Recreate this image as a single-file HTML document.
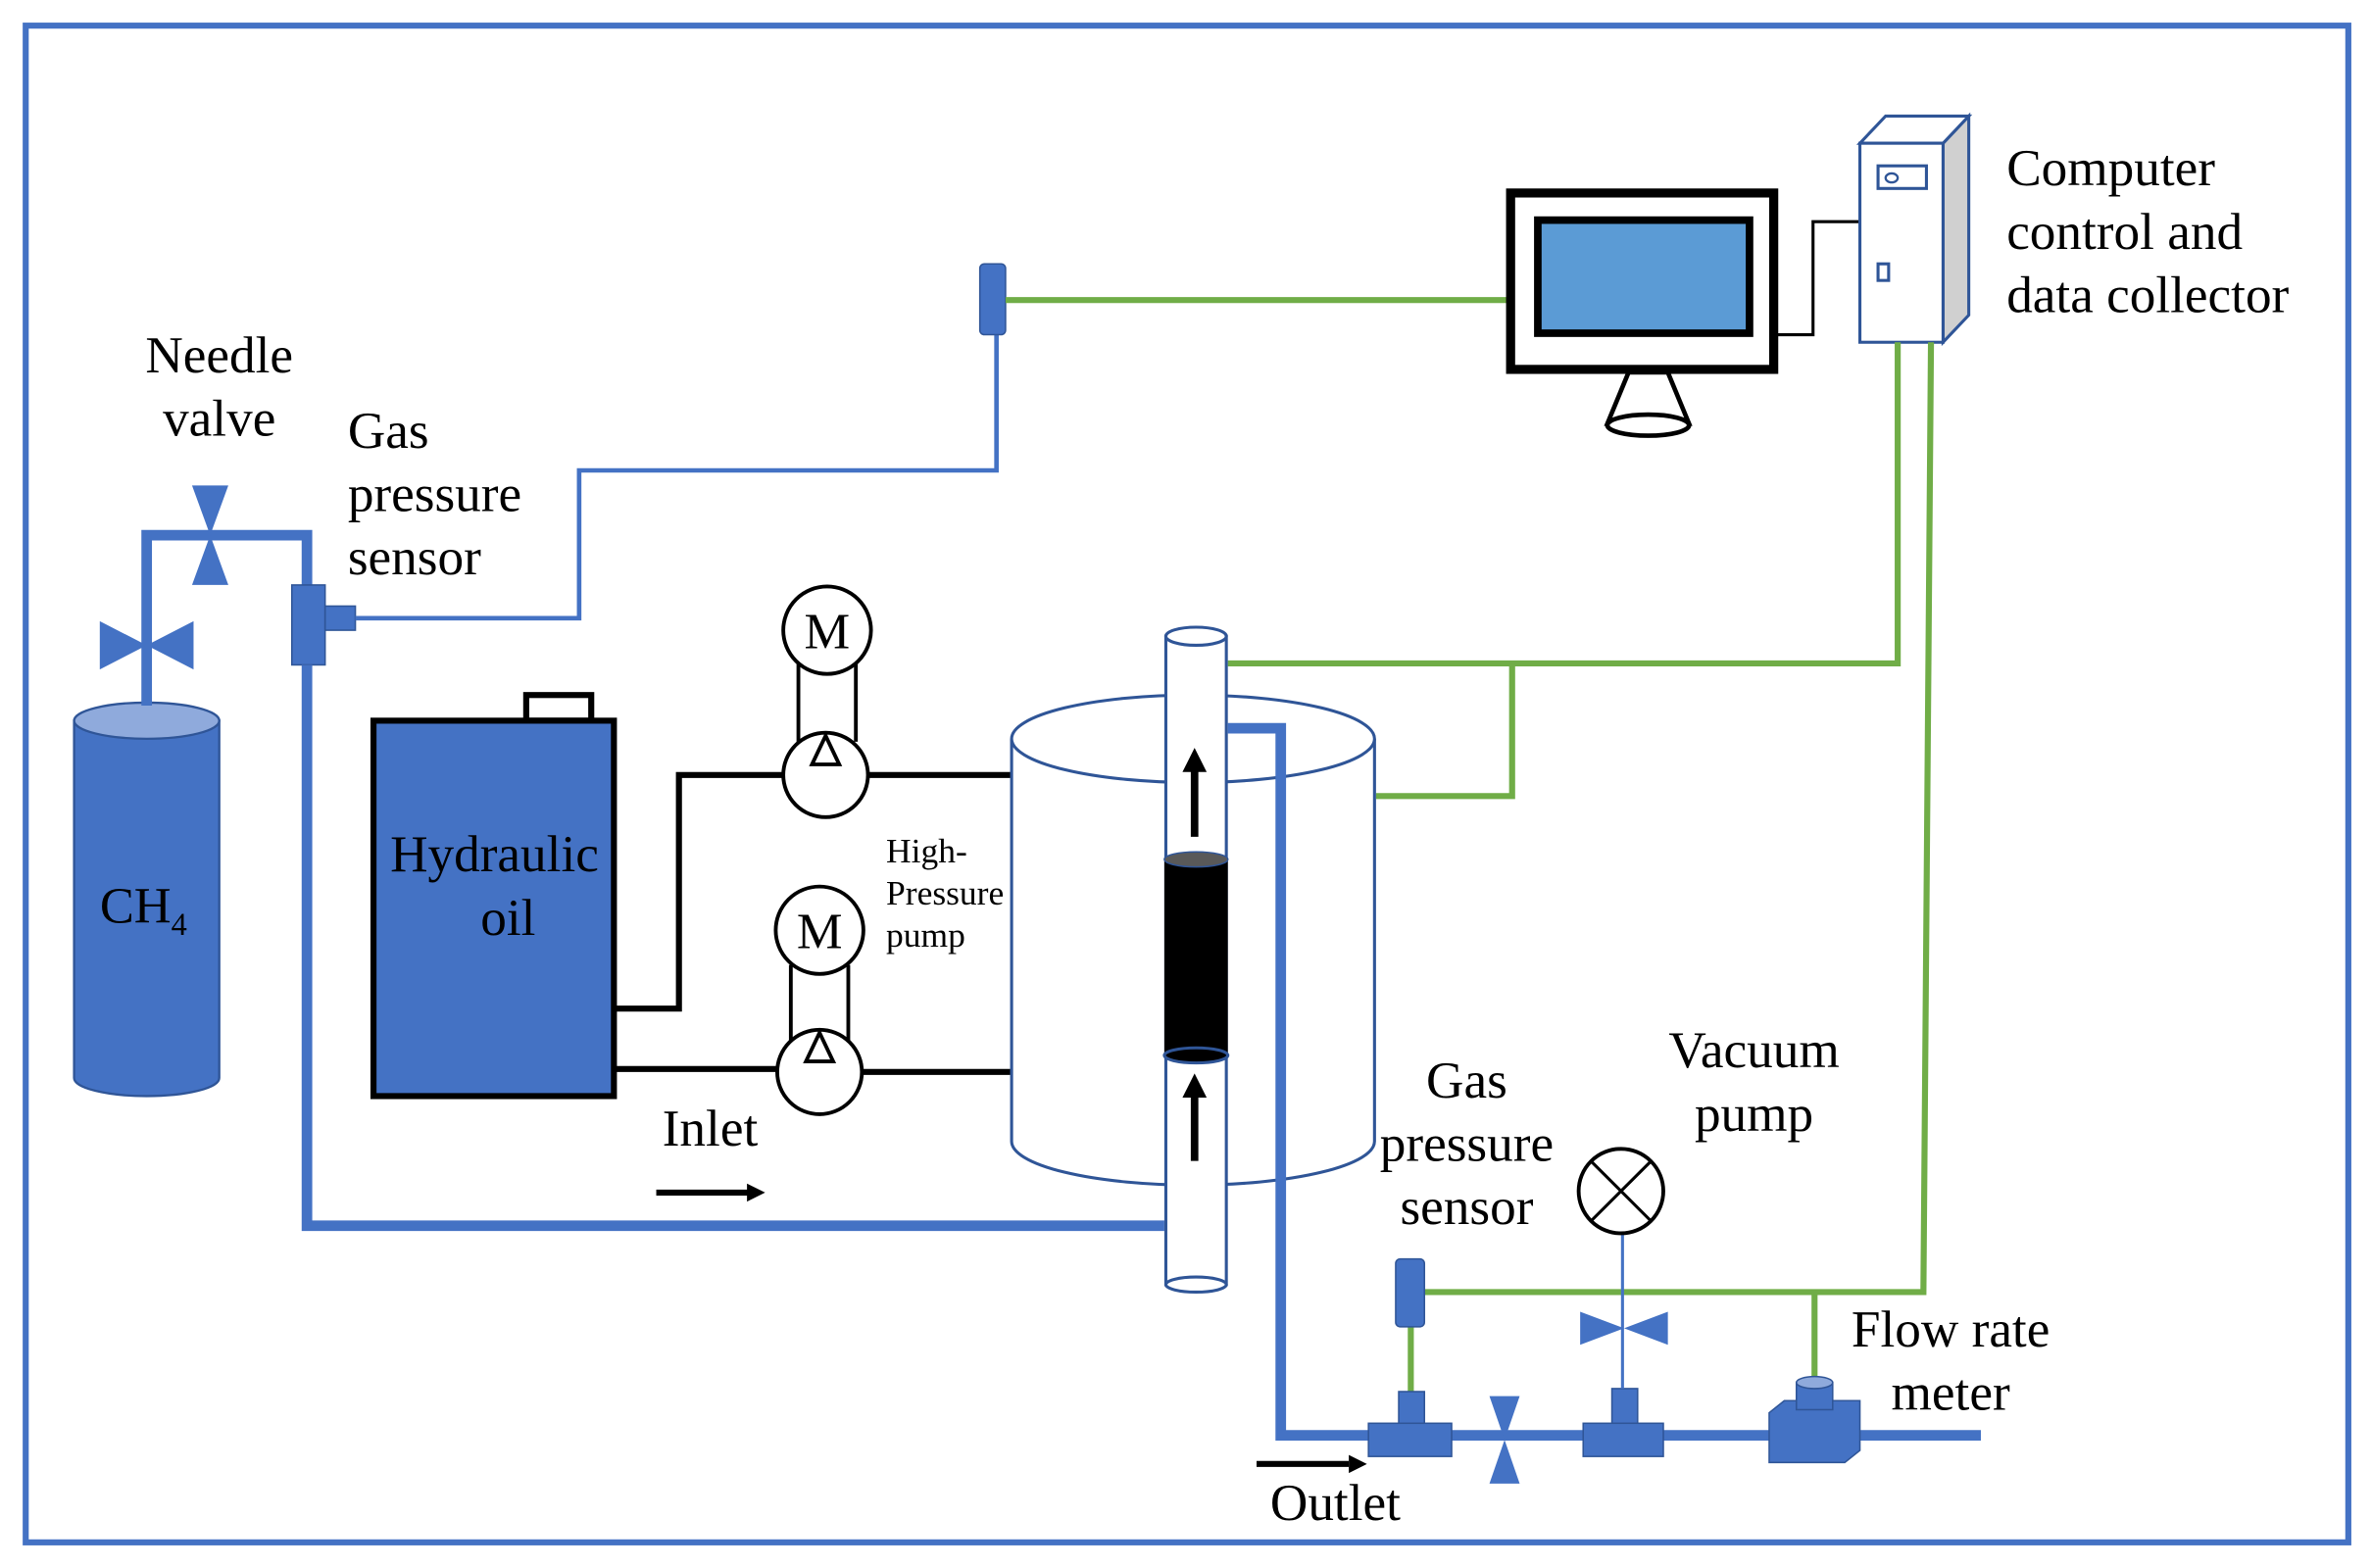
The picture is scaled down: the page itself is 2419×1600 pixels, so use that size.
<!DOCTYPE html>
<html><head><meta charset="utf-8"><style>
html,body{margin:0;padding:0;background:#fff;}
svg{display:block;}
text{font-family:"Liberation Serif",serif;fill:#000;}
</style></head><body>
<svg width="2419" height="1600" viewBox="0 0 1568 1040" preserveAspectRatio="none" xmlns="http://www.w3.org/2000/svg">
<rect x="0" y="0" width="1568" height="1040" fill="#fff"/>
<rect x="17" y="17" width="1536" height="1006" fill="none" stroke="#4472c4" stroke-width="4"/>

<!-- CH4 cylinder -->
<path d="M49,478 L49,715 A48,12 0 0 0 145,715 L145,478 Z" fill="#4472c4" stroke="#2f5597" stroke-width="1.5"/>
<ellipse cx="97" cy="478" rx="48" ry="12" fill="#8faadc" stroke="#2f5597" stroke-width="1.5"/>
<text x="66" y="612" font-size="34">CH<tspan font-size="21" dy="8">4</tspan></text>

<!-- gas line -->
<polyline points="97,468 97,355 203,355 203,388" fill="none" stroke="#4472c4" stroke-width="7"/>
<polygon points="66,412 66,444 128,412 128,444" fill="#4472c4"/>
<polygon points="127,322 151,322 127,388 151,388" fill="#4472c4"/>
<rect x="193" y="388" width="22" height="53" fill="#4472c4" stroke="#2f5597"/>
<rect x="215" y="402" width="20" height="16" fill="#4472c4" stroke="#2f5597"/>
<polyline points="235,410 383,410 383,312 659,312 659,222" fill="none" stroke="#4472c4" stroke-width="3"/>
<rect x="648" y="175" width="17" height="47" rx="3" fill="#4472c4" stroke="#2f5597"/>
<polyline points="203,441 203,813 770,813" fill="none" stroke="#4472c4" stroke-width="7"/>
<line x1="665" y1="199" x2="998" y2="199" stroke="#70ad47" stroke-width="4"/>

<!-- monitor -->
<rect x="999" y="128" width="174" height="117" fill="#fff" stroke="#000" stroke-width="6"/>
<rect x="1017" y="146" width="140" height="75" fill="#5b9bd5" stroke="#000" stroke-width="5"/>
<polygon points="1077,247 1103,247 1117,281 1063,281" fill="#fff" stroke="#000" stroke-width="3"/>
<ellipse cx="1090" cy="282" rx="27" ry="7" fill="#fff" stroke="#000" stroke-width="3"/>
<polyline points="1173,222 1199,222 1199,147 1230,147" fill="none" stroke="#000" stroke-width="2"/>

<!-- computer tower -->
<polygon points="1285,95 1302,77 1302,209 1285,227" fill="#d0d0d0" stroke="#2f5597" stroke-width="2"/>
<polygon points="1230,95 1247,77 1302,77 1285,95" fill="#fff" stroke="#2f5597" stroke-width="2"/>
<rect x="1230" y="95" width="55" height="132" fill="#fff" stroke="#2f5597" stroke-width="2"/>
<rect x="1242" y="110" width="32" height="15" fill="#fff" stroke="#2f5597" stroke-width="2"/>
<ellipse cx="1251" cy="118" rx="4" ry="3" fill="none" stroke="#2f5597" stroke-width="1.5"/>
<rect x="1242" y="175" width="7" height="11" fill="#fff" stroke="#2f5597" stroke-width="2"/>
<text x="1327" y="123" font-size="34.5">Computer</text>
<text x="1327" y="165" font-size="34.5">control and</text>
<text x="1327" y="207" font-size="34.5">data collector</text>

<!-- green wires -->
<polyline points="1255,227 1255,440 812,440" fill="none" stroke="#70ad47" stroke-width="4"/>
<polyline points="1000,440 1000,528 910,528" fill="none" stroke="#70ad47" stroke-width="4"/>
<polyline points="1277,227 1272,857 933,857" fill="none" stroke="#70ad47" stroke-width="4"/>
<line x1="1200" y1="857" x2="1200" y2="915" stroke="#70ad47" stroke-width="4"/>
<line x1="933" y1="880" x2="933" y2="925" stroke="#70ad47" stroke-width="4"/>

<!-- hydraulic oil -->
<rect x="348" y="461" width="43" height="17" fill="#fff" stroke="#000" stroke-width="4"/>
<rect x="247" y="478" width="159" height="249" fill="#4472c4" stroke="#000" stroke-width="4"/>
<text x="327" y="578" font-size="34.5" text-anchor="middle">Hydraulic</text>
<text x="336" y="620" font-size="34.5" text-anchor="middle">oil</text>

<!-- pump lines -->
<polyline points="406,669 449,669 449,514 518,514" fill="none" stroke="#000" stroke-width="4"/>
<line x1="574" y1="514" x2="669" y2="514" stroke="#000" stroke-width="4"/>
<line x1="406" y1="709" x2="514" y2="709" stroke="#000" stroke-width="4"/>
<line x1="570" y1="711" x2="669" y2="711" stroke="#000" stroke-width="4"/>
<line x1="528" y1="440" x2="528" y2="492" stroke="#000" stroke-width="2.5"/>
<line x1="566" y1="440" x2="566" y2="492" stroke="#000" stroke-width="2.5"/>
<circle cx="547" cy="418" r="29" fill="#fff" stroke="#000" stroke-width="2.5"/>
<text x="547" y="430" font-size="34" text-anchor="middle">M</text>
<circle cx="546" cy="514" r="28" fill="#fff" stroke="#000" stroke-width="2.5"/>
<polygon points="546,488 537,507 555,507" fill="#fff" stroke="#000" stroke-width="2.5"/>
<line x1="523" y1="640" x2="523" y2="690" stroke="#000" stroke-width="2.5"/>
<line x1="561" y1="640" x2="561" y2="690" stroke="#000" stroke-width="2.5"/>
<circle cx="542" cy="617" r="29" fill="#fff" stroke="#000" stroke-width="2.5"/>
<text x="542" y="629" font-size="34" text-anchor="middle">M</text>
<circle cx="542" cy="711" r="28" fill="#fff" stroke="#000" stroke-width="2.5"/>
<polygon points="542,685 533,704 551,704" fill="#fff" stroke="#000" stroke-width="2.5"/>
<text x="586" y="572" font-size="23">High-</text>
<text x="586" y="600" font-size="23">Pressure</text>
<text x="586" y="628" font-size="23">pump</text>

<!-- vessel -->
<path d="M669,490 L669,757 A120,29 0 0 0 909,757 L909,490" fill="#fff" stroke="#2f5597" stroke-width="2"/>
<ellipse cx="789" cy="490" rx="120" ry="29" fill="#fff" stroke="#2f5597" stroke-width="2"/>
<rect x="771" y="422" width="40" height="430" fill="#fff" stroke="#2f5597" stroke-width="2"/>
<ellipse cx="791" cy="422" rx="20" ry="6" fill="#fff" stroke="#2f5597" stroke-width="2"/>
<ellipse cx="791" cy="852" rx="20" ry="5" fill="#fff" stroke="#2f5597" stroke-width="2"/>
<rect x="770" y="570" width="42" height="130" fill="#000"/>
<ellipse cx="791" cy="570" rx="21" ry="5" fill="#595959" stroke="#2f5597"/>
<ellipse cx="791" cy="700" rx="21" ry="5" fill="#000" stroke="#2f5597" stroke-width="2"/>
<line x1="790" y1="555" x2="790" y2="510" stroke="#000" stroke-width="5"/>
<polygon points="790,496 782,512 798,512" fill="#000"/>
<line x1="790" y1="770" x2="790" y2="726" stroke="#000" stroke-width="5"/>
<polygon points="790,712 782,728 798,728" fill="#000"/>

<!-- outlet pipe -->
<polyline points="812,483 847,483 847,952 1310,952" fill="none" stroke="#4472c4" stroke-width="7"/>
<text x="438" y="760" font-size="34.5">Inlet</text>
<line x1="434" y1="791" x2="495" y2="791" stroke="#000" stroke-width="4"/>
<polygon points="506,791 494,785 494,797" fill="#000"/>
<text x="840" y="1008" font-size="34.5">Outlet</text>
<line x1="831" y1="971" x2="892" y2="971" stroke="#000" stroke-width="4"/>
<polygon points="904,971 892,965 892,977" fill="#000"/>

<!-- outlet components -->
<rect x="925" y="923" width="17" height="22" fill="#4472c4" stroke="#2f5597"/>
<rect x="905" y="944" width="55" height="22" fill="#4472c4" stroke="#2f5597"/>
<polygon points="985,926 1005,926 985,984 1005,984" fill="#4472c4"/>
<rect x="1066" y="921" width="17" height="24" fill="#4472c4" stroke="#2f5597"/>
<rect x="1047" y="944" width="53" height="22" fill="#4472c4" stroke="#2f5597"/>
<line x1="1073" y1="818" x2="1073" y2="921" stroke="#4472c4" stroke-width="2"/>
<polygon points="1045,870 1045,892 1103,870 1103,892" fill="#4472c4"/>
<circle cx="1072" cy="790" r="28" fill="#fff" stroke="#000" stroke-width="2.5"/>
<line x1="1052" y1="770" x2="1092" y2="810" stroke="#000" stroke-width="2"/>
<line x1="1092" y1="770" x2="1052" y2="810" stroke="#000" stroke-width="2"/>
<rect x="923" y="835" width="19" height="45" rx="3" fill="#4472c4" stroke="#2f5597"/>
<polygon points="1170,937 1180,929 1230,929 1230,962 1220,970 1170,970" fill="#4472c4" stroke="#2f5597"/>
<rect x="1188" y="917" width="24" height="18" fill="#4472c4" stroke="#2f5597"/>
<ellipse cx="1200" cy="917" rx="12" ry="4" fill="#8faadc" stroke="#2f5597"/>

<!-- labels -->
<text x="145" y="247" font-size="34.5" text-anchor="middle">Needle</text>
<text x="145" y="289" font-size="34.5" text-anchor="middle">valve</text>
<text x="230" y="297" font-size="34.5">Gas</text>
<text x="230" y="339" font-size="34.5">pressure</text>
<text x="230" y="381" font-size="34.5">sensor</text>
<text x="970" y="728" font-size="34.5" text-anchor="middle">Gas</text>
<text x="970" y="770" font-size="34.5" text-anchor="middle">pressure</text>
<text x="970" y="812" font-size="34.5" text-anchor="middle">sensor</text>
<text x="1160" y="708" font-size="34.5" text-anchor="middle">Vacuum</text>
<text x="1160" y="750" font-size="34.5" text-anchor="middle">pump</text>
<text x="1290" y="893" font-size="34.5" text-anchor="middle">Flow rate</text>
<text x="1290" y="935" font-size="34.5" text-anchor="middle">meter</text>
</svg>
</body></html>
